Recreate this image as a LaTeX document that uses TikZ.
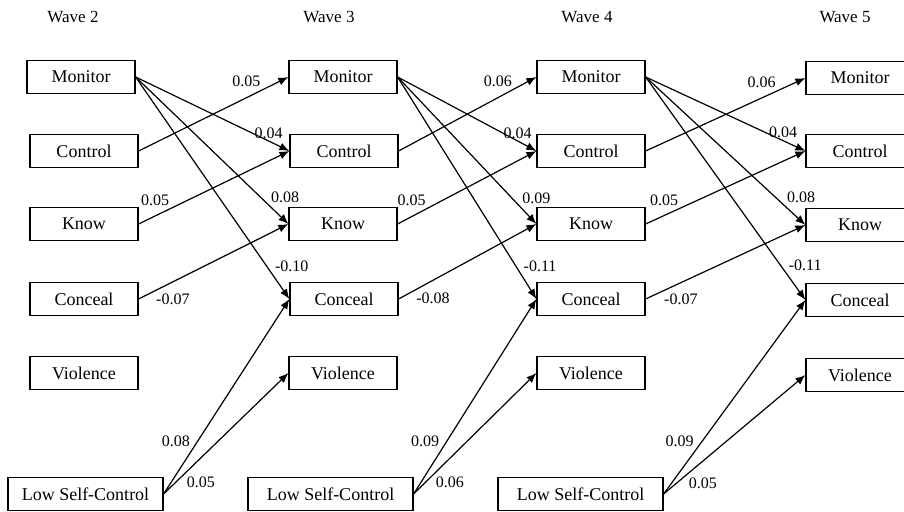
\documentclass[tikz,border=0pt]{standalone}
\usepackage{fontspec}
\setmainfont{Liberation Serif}
\usetikzlibrary{arrows.meta}
\begin{document}
\begin{tikzpicture}[x=0.5pt, y=-0.5pt, >={Latex[length=5pt,width=4pt]},
  var/.style={draw, line width=0.6pt, minimum width=54pt, minimum height=16.5pt, inner sep=0pt, font=\fontsize{9}{11}\selectfont},
  lsc/.style={var, minimum width=82.5pt},
  lnk/.style={->, line width=0.6pt},
  coef/.style={inner sep=1pt, font=\fontsize{8}{9.6}\selectfont},
  wave/.style={font=\fontsize{8.5}{10}\selectfont}]
  \useasboundingbox (0,0) rectangle (904,512);

  % wave headings
  \node[wave] (W2) at (73,17) {Wave 2};
  \node[wave] (W3) at (329,17) {Wave 3};
  \node[wave] (W4) at (587,17) {Wave 4};
  \node[wave] (W5) at (845,17) {Wave 5};

  % wave 2
  \node[var] (M2) at (81,77) {Monitor};
  \node[var] (C2) at (84,151) {Control};
  \node[var] (K2) at (84,224) {Know};
  \node[var] (H2) at (84,299) {Conceal};
  \node[var] (V2) at (84,373) {Violence};
  \node[lsc, minimum width=77.5pt] (L2) at (85.5,494) {Low Self-Control};

  % wave 3
  \node[var] (M3) at (343,77) {Monitor};
  \node[var] (C3) at (344,151) {Control};
  \node[var] (K3) at (343,224) {Know};
  \node[var] (H3) at (344,299) {Conceal};
  \node[var] (V3) at (343,373) {Violence};
  \node[lsc] (L3) at (330.5,494) {Low Self-Control};

  % wave 4
  \node[var] (M4) at (591,77) {Monitor};
  \node[var] (C4) at (591,151) {Control};
  \node[var] (K4) at (591,224) {Know};
  \node[var] (H4) at (591,299) {Conceal};
  \node[var] (V4) at (591,373) {Violence};
  \node[lsc] (L4) at (580.5,494) {Low Self-Control};

  % wave 5 (cut off at the right edge)
  \node[var] (M5) at (860,78) {Monitor};
  \node[var] (C5) at (860,151) {Control};
  \node[var] (K5) at (860,225) {Know};
  \node[var] (H5) at (860,300) {Conceal};
  \node[var] (V5) at (860,375) {Violence};

  % wave 2 -> wave 3
  \draw[lnk] (M2.east) -- node[coef, pos=0.865, above] {0.04} (C3.west);
  \draw[lnk] (M2.east) -- node[coef, pos=0.87, anchor=south west] {0.08} (K3.west);
  \draw[lnk] (M2.east) -- node[coef, pos=0.89, anchor=south west] {-0.10} (H3.west);
  \draw[lnk] (C2.east) -- node[coef, pos=0.83, anchor=south east] {0.05} (M3.west);
  \draw[lnk] (K2.east) -- node[coef, pos=0.22, anchor=south east] {0.05} (C3.west);
  \draw[lnk] (H2.east) -- node[coef, pos=0.1, anchor=north west] {-0.07} (K3.west);
  \draw[lnk] (L2.east) -- node[coef, pos=0.23, anchor=south east] {0.08} (H3.west);
  \draw[lnk] (L2.east) -- node[coef, pos=0.165, anchor=north west] {0.05} (V3.west);

  % wave 3 -> wave 4
  \draw[lnk] (M3.east) -- node[coef, pos=0.865, above] {0.04} (C4.west);
  \draw[lnk] (M3.east) -- node[coef, pos=0.88, anchor=south west] {0.09} (K4.west);
  \draw[lnk] (M3.east) -- node[coef, pos=0.89, anchor=south west] {-0.11} (H4.west);
  \draw[lnk] (C3.east) -- node[coef, pos=0.84, anchor=south east] {0.06} (M4.west);
  \draw[lnk] (K3.east) -- node[coef, pos=0.22, anchor=south east] {0.05} (C4.west);
  \draw[lnk] (H3.east) -- node[coef, pos=0.11, anchor=north west] {-0.08} (K4.west);
  \draw[lnk] (L3.east) -- node[coef, pos=0.23, anchor=south east] {0.09} (H4.west);
  \draw[lnk] (L3.east) -- node[coef, pos=0.16, anchor=north west] {0.06} (V4.west);

  % wave 4 -> wave 5
  \draw[lnk] (M4.east) -- node[coef, pos=0.86, above] {0.04} (C5.west);
  \draw[lnk] (M4.east) -- node[coef, pos=0.87, anchor=south west] {0.08} (K5.west);
  \draw[lnk] (M4.east) -- node[coef, pos=0.88, anchor=south west] {-0.11} (H5.west);
  \draw[lnk] (C4.east) -- node[coef, pos=0.83, anchor=south east] {0.06} (M5.west);
  \draw[lnk] (K4.east) -- node[coef, pos=0.22, anchor=south east] {0.05} (C5.west);
  \draw[lnk] (H4.east) -- node[coef, pos=0.1, anchor=north west] {-0.07} (K5.west);
  \draw[lnk] (L4.east) -- node[coef, pos=0.23, anchor=south east] {0.09} (H5.west);
  \draw[lnk] (L4.east) -- node[coef, pos=0.16, anchor=north west] {0.05} (V5.west);
\end{tikzpicture}
\end{document}
